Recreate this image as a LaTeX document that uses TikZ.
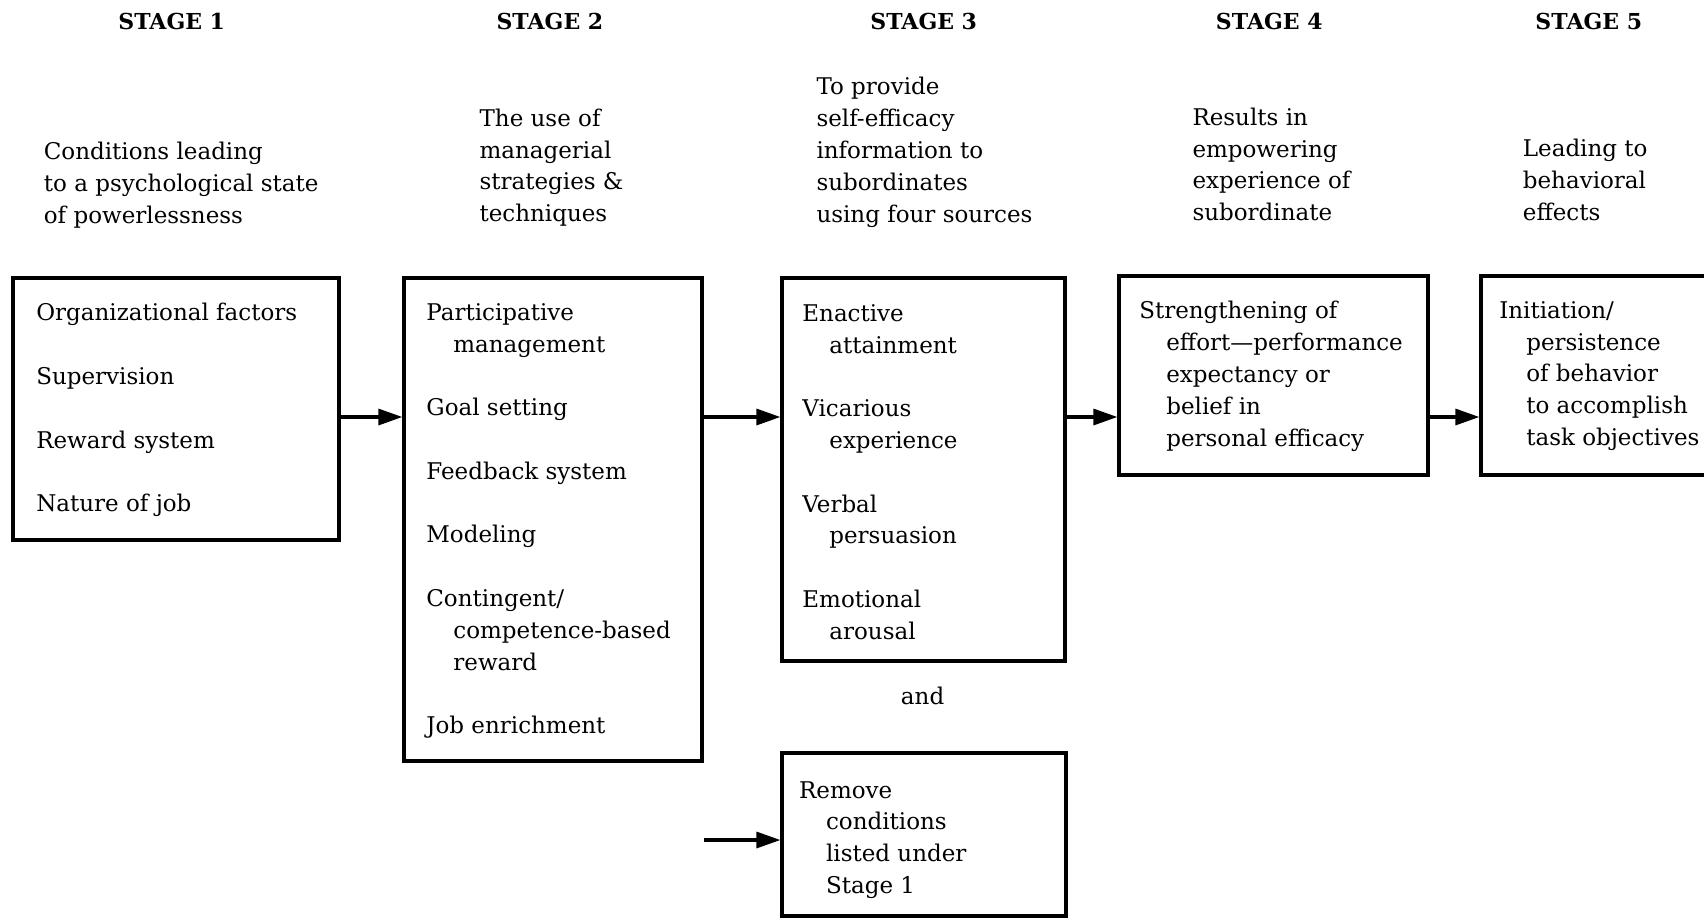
\documentclass[tikz,border=0pt]{standalone}
\usepackage{fontspec}
\setmainfont{DejaVu Serif}
\usetikzlibrary{arrows.meta,fit}
\tikzset{
  box/.style={draw, line width=1.6pt, inner sep=0pt},
  txt/.style={anchor=north west, inner sep=0pt, align=left, font=\fontsize{11.5}{15.9}\selectfont},
  ttl/.style={inner sep=0pt, font=\fontsize{11}{12}\selectfont\bfseries},
  arr/.style={line width=1.6pt, -{Triangle[length=12pt,width=8pt]}}
}
\newcommand{\ind}{\hspace*{13.5pt}}
\newcommand{\gap}{\\[15.9pt]}
\begin{document}
\begin{tikzpicture}[x=0.5pt,y=-0.5pt]
\useasboundingbox (0,0) rectangle (1704,918);
% titles
\node[ttl] (s1) at (171.7,21.7) {STAGE 1};
\node[ttl] (s2) at (549.9,21.7) {STAGE 2};
\node[ttl] (s3) at (923.7,21.7) {STAGE 3};
\node[ttl] (s4) at (1269.3,21.7) {STAGE 4};
\node[ttl] (s5) at (1588.8,21.7) {STAGE 5};
% descriptions
\node[txt] (d1) at (43.5,142) {Conditions leading\\to a psychological state\\of powerlessness};
\node[txt] (d2) at (479.2,108.5) {The use of\\managerial\\strategies \&\\techniques};
\node[txt] (d3) at (816.1,77) {To provide\\self-efficacy\\information to\\subordinates\\using four sources};
\node[txt] (d4) at (1192.1,107.4) {Results in\\empowering\\experience of\\subordinate};
\node[txt] (d5) at (1522.5,139) {Leading to\\behavioral\\effects};
% boxes
\node[box, fit={(13,278) (339,540)}] (b1) {};
\node[box, fit={(404,278) (702,761)}] (b2) {};
\node[box, fit={(782,278) (1065,661)}] (b3) {};
\node[box, fit={(1119,276) (1428,475)}] (b4) {};
\node[box, fit={(1481,276) (1740,475)}] (b5) {};
\node[box, fit={(782,753) (1066,916)}] (b6) {};
% box texts
\node[txt] (t1) at (35.9,303) {Organizational factors\gap Supervision\gap Reward system\gap Nature of job};
\node[txt] (t2) at (426,303) {Participative\\\ind management\gap Goal setting\gap Feedback system\gap Modeling\gap Contingent/\\\ind competence-based\\\ind reward\gap Job enrichment};
\node[txt] (t3) at (802,304) {Enactive\\\ind attainment\gap Vicarious\\\ind experience\gap Verbal\\\ind persuasion\gap Emotional\\\ind arousal};
\node[txt] (t4) at (1138.9,301) {Strengthening of\\\ind effort---performance\\\ind expectancy or\\\ind belief in\\\ind personal efficacy};
\node[txt] (t5) at (1498.9,301) {Initiation/\\\ind persistence\\\ind of behavior\\\ind to accomplish\\\ind task objectives};
\node[txt] (t6) at (798.7,781) {Remove\\\ind conditions\\\ind listed under\\\ind Stage 1};
\node[inner sep=0pt, font=\fontsize{11.5}{12}\selectfont] (and) at (922.6,695.5) {and};
% arrows
\draw[arr] (b1.east |- 0,417) -- (b2.west |- 0,417);
\draw[arr] (b2.east |- 0,417) -- (b3.west |- 0,417);
\draw[arr] (b3.east |- 0,417) -- (b4.west |- 0,417);
\draw[arr] (b4.east |- 0,417) -- (b5.west |- 0,417);
\coordinate (src6) at (b2.east |- 0,840);
\draw[arr] (src6) -- (b6.west |- src6);
\end{tikzpicture}
\end{document}
